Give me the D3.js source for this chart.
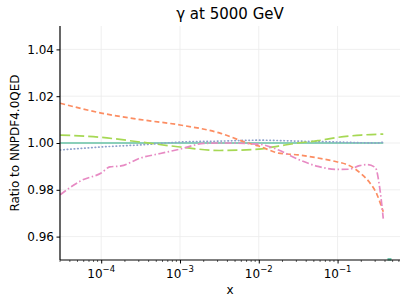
<!DOCTYPE html>
<html>
<head>
<meta charset="utf-8">
<script src="https://cdn.jsdelivr.net/npm/d3@7"></script>
<style>
body { margin: 0; background: #fff; }
svg text { font-family: "DejaVu Sans", sans-serif; }
</style>
</head>
<body>
<svg id="chart" width="407" height="306"></svg>
<script>
// series values (log10 x, ratio)
var tealData = [[-4.52, 1.0], [-0.42, 1.0]];
var orangeData = [[-4.52, 1.0170], [-4.0, 1.0128], [-3.5, 1.0100], [-3.0, 1.0077], [-2.5, 1.0043],
  [-2.14, 1.0], [-2.0, 0.9987], [-1.75, 0.9957], [-1.5, 0.9949], [-1.25, 0.9936], [-1.0, 0.9919],
  [-0.9, 0.9910], [-0.8, 0.9894], [-0.7, 0.9868], [-0.6, 0.9834], [-0.5, 0.9780], [-0.42, 0.9706]];
var blueData = [[-4.52, 0.9970], [-4.0, 0.9983], [-3.5, 0.9992], [-3.0, 1.0004], [-2.5, 1.0008],
  [-2.0, 1.0012], [-1.5, 1.0008], [-1.0, 1.0004], [-0.5, 1.0], [-0.42, 1.0004]];
var pinkData = [[-4.52, 0.9779], [-4.25, 0.9840], [-4.0, 0.9872], [-3.89, 0.9898], [-3.75, 0.9902],
  [-3.5, 0.9936], [-3.25, 0.9955], [-3.0, 0.9974], [-2.7, 0.9998], [-2.5, 1.0], [-2.0, 0.9995],
  [-1.75, 0.9970], [-1.5, 0.9930], [-1.25, 0.9900], [-1.0, 0.9887], [-0.85, 0.9888],
  [-0.72, 0.9903], [-0.62, 0.9908], [-0.52, 0.9895], [-0.47, 0.9820], [-0.42, 0.9677]];
var greenData = [[-4.52, 1.0034], [-4.0, 1.0024], [-3.5, 1.0004], [-3.0, 0.9983], [-2.5, 0.9968],
  [-2.0, 0.9974], [-1.75, 0.9987], [-1.5, 1.0], [-1.25, 1.0010], [-1.0, 1.0024], [-0.7, 1.0034],
  [-0.42, 1.0038]];

var xTicks = [1e-4, 1e-3, 1e-2, 1e-1];
var xTickLabels = ["−4", "−3", "−2", "−1"];
var yTicks = [0.96, 0.98, 1.00, 1.02, 1.04];

var svg = d3.select("#chart");
var margin = {left: 60, right: 7, top: 26, bottom: 46};
var width = 407, height = 306;

var x = d3.scaleLog().domain([3.0e-5, 0.62]).range([margin.left, width - margin.right]);
var y = d3.scaleLinear().domain([0.95, 1.05]).range([height - margin.bottom, margin.top]);

// grid
var grid = svg.append("g");
xTicks.forEach(function (t) {
  grid.append("line").attr("x1", x(t)).attr("x2", x(t))
    .attr("y1", y.range()[0]).attr("y2", y.range()[1])
    .attr("stroke", "#ebebeb").attr("stroke-width", 0.8);
});
yTicks.forEach(function (t) {
  grid.append("line").attr("x1", x.range()[0]).attr("x2", x.range()[1])
    .attr("y1", y(t)).attr("y2", y(t))
    .attr("stroke", "#ebebeb").attr("stroke-width", 0.8);
});

svg.append("clipPath").attr("id", "clip").append("rect")
  .attr("x", margin.left).attr("y", margin.top)
  .attr("width", width - margin.left - margin.right)
  .attr("height", height - margin.top - margin.bottom);

var line = d3.line()
  .x(function (d) { return x(Math.pow(10, d[0])); })
  .y(function (d) { return y(d[1]); })
  .curve(d3.curveMonotoneX);

var series = [
  {data: tealData, color: "#66c2a5", dash: null, cap: "butt"},
  {data: blueData, color: "#8da0cb", dash: "0.5,3", cap: "round"},
  {data: greenData, color: "#a6d854", dash: "10,4", cap: "butt"},
  {data: orangeData, color: "#fc8d62", dash: "5,3", cap: "butt"},
  {data: pinkData, color: "#e78ac3", dash: "7,2.5,1.5,2.5", cap: "butt"}
];

var lines = svg.append("g").attr("clip-path", "url(#clip)");
series.forEach(function (s) {
  lines.append("path")
    .datum(s.data)
    .attr("d", line)
    .attr("fill", "none")
    .attr("stroke", s.color)
    .attr("stroke-width", 1.7)
    .attr("stroke-linecap", s.cap)
    .attr("stroke-dasharray", s.dash);
});

// small teal mark at bottom right
svg.append("rect").attr("x", x(0.43)).attr("y", y(0.9508))
  .attr("width", 4).attr("height", 2.5).attr("fill", "#66c2a5");

// axes
var xAxis = svg.append("g")
  .attr("transform", "translate(0," + y.range()[0] + ")")
  .call(d3.axisBottom(x).tickValues(xTicks).tickSize(3.5).tickFormat(""));
xAxis.select(".domain").attr("stroke", "#000").attr("stroke-width", 1.2)
  .attr("d", "M" + x.range()[0] + ",0H" + x.range()[1]);

// minor ticks
var minor = [];
for (var e = -5; e <= 0; e++) {
  for (var m = 2; m <= 9; m++) {
    var v = m * Math.pow(10, e);
    if (v >= x.domain()[0] && v <= x.domain()[1]) minor.push(v);
  }
}
xAxis.selectAll(".minor").data(minor).enter().append("line")
  .attr("class", "minor")
  .attr("x1", function (d) { return x(d); }).attr("x2", function (d) { return x(d); })
  .attr("y1", 0).attr("y2", 2).attr("stroke", "#000").attr("stroke-width", 0.6);

xTicks.forEach(function (t, i) {
  var lab = xAxis.append("text").attr("x", x(t)).attr("y", 18)
    .attr("text-anchor", "middle").attr("fill", "#000").attr("font-size", 12);
  lab.append("tspan").text("10");
  lab.append("tspan").attr("dy", -6).attr("font-size", 8.5).text(xTickLabels[i]);
});

var yAxis = svg.append("g")
  .attr("transform", "translate(" + x.range()[0] + ",0)")
  .call(d3.axisLeft(y).tickValues(yTicks).tickSize(3.5).tickFormat(d3.format(".2f")));
yAxis.select(".domain").attr("stroke", "#000").attr("stroke-width", 1.2)
  .attr("d", "M0," + y.range()[0] + "V" + y.range()[1]);
yAxis.selectAll("text").attr("font-size", 12).attr("fill", "#000")
  .attr("font-family", "DejaVu Sans, sans-serif").attr("x", -6);

svg.append("text").attr("x", (x.range()[0] + x.range()[1]) / 2).attr("y", 19)
  .attr("text-anchor", "middle").attr("font-size", 15).attr("fill", "#000")
  .text("γ at 5000 GeV");

svg.append("text").attr("x", (x.range()[0] + x.range()[1]) / 2).attr("y", 294)
  .attr("text-anchor", "middle").attr("font-size", 12).attr("fill", "#000").text("x");

svg.append("text")
  .attr("transform", "translate(19," + ((y.range()[0] + y.range()[1]) / 2) + ") rotate(-90)")
  .attr("text-anchor", "middle").attr("font-size", 12).attr("fill", "#000")
  .text("Ratio to NNPDF4.0QED");
</script>
</body>
</html>
